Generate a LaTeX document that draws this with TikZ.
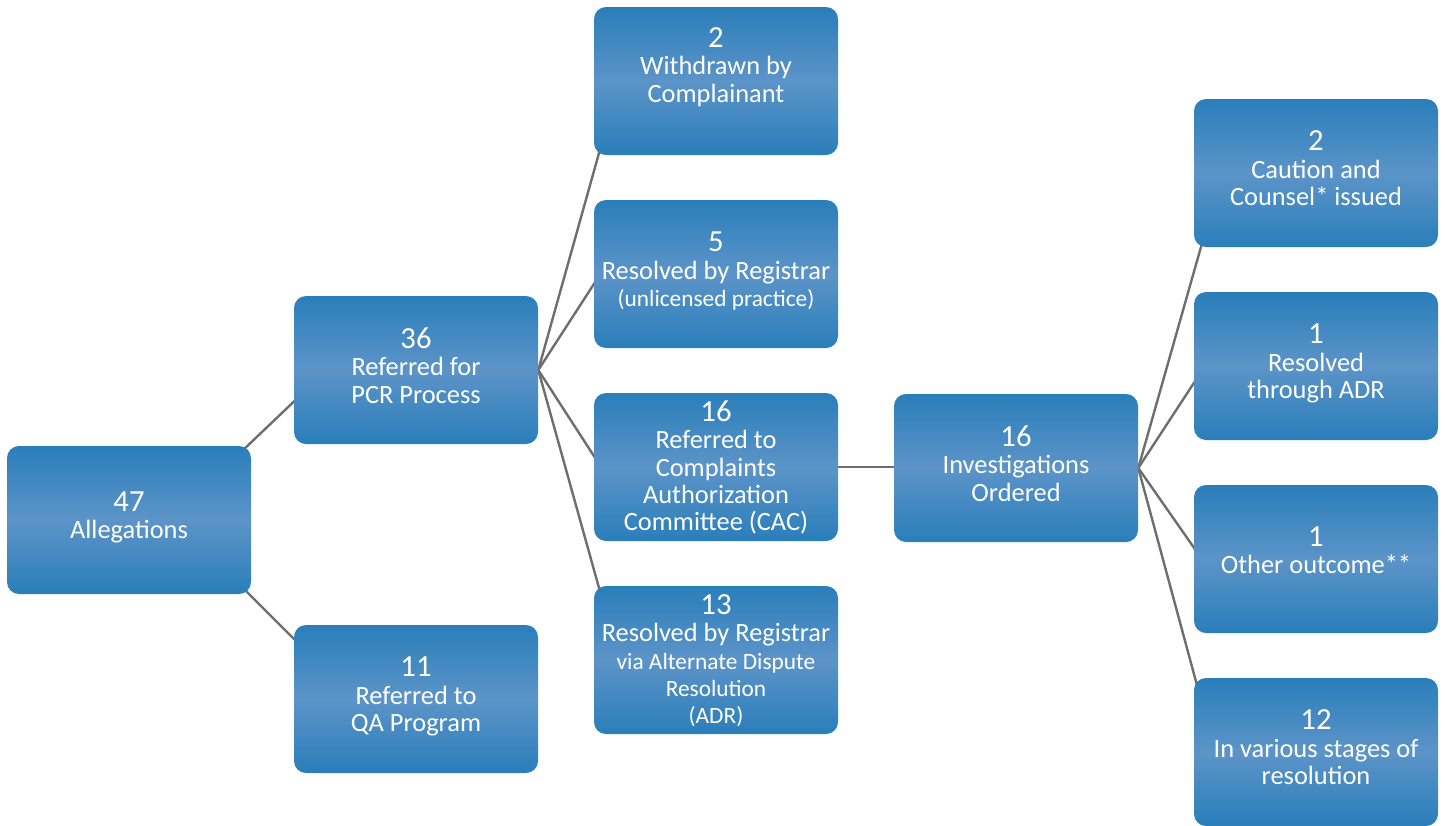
\documentclass[tikz,border=0pt]{standalone}
\usepackage{fontspec}
\setmainfont{Carlito}
\usetikzlibrary{positioning,calc,backgrounds}
\definecolor{boxdark}{RGB}{42,126,186}
\definecolor{boxlight}{RGB}{92,148,200}
\definecolor{linkgray}{RGB}{110,110,110}
\newcommand{\boxnum}[2][0pt]{{\rule{0pt}{#1}\fontsize{23}{24}\selectfont #2}}
\newcommand{\smallline}[1]{{\fontsize{17.5}{20}\selectfont #1}}

\begin{document}
\begin{tikzpicture}[x=0.75pt,y=0.75pt,yscale=-1,xscale=1,
  lift/.style={execute at end node={\rule[-#1]{0pt}{1pt}}}]
 \tikzstyle{box} = [rectangle, rounded corners=9pt, minimum width=183pt, minimum height=111pt, inner sep=0pt, top color=boxdark, bottom color=boxdark, middle color=boxlight, text=white, align=center, font=\fontsize{19.8}{20.6}\selectfont, lift=7pt]
 \tikzstyle{link} = [draw=linkgray, line width=1.8pt]
 \useasboundingbox (0,0) rectangle (1445,825);

 %First column
 \node[box] (alleg) at (129,520) {\boxnum{47}\\Allegations};
 %Second column
 \node[box] (pcr) at (416,370) {\boxnum{36}\\Referred for\\PCR Process};
 \node[box] (qa) at (416,699) {\boxnum{11}\\Referred to\\QA Program};
 %Third column
 \node[box, lift=24pt] (wd) at (716,81) {\boxnum{2}\\Withdrawn by\\Complainant};
 \node[box] (reg) at (716,274) {\boxnum{5}\\Resolved by Registrar\\\smallline{(unlicensed practice)}};
 \node[box] (cac) at (716,467) {\boxnum[20.5pt]{16}\\Referred to\\Complaints\\Authorization\\Committee (CAC)};
 \node[box] (adrreg) at (716,660) {\boxnum[20.5pt]{13}\\Resolved by Registrar\\\smallline{via Alternate Dispute}\\\smallline{Resolution}\\\smallline{(ADR)}};
 %Fourth column
 \node[box] (inv) at (1016,468) {\boxnum{16}\\Investigations\\Ordered};
 %Last column
 \node[box] (caution) at (1316,173) {\boxnum{2}\\Caution and\\Counsel* issued};
 \node[box] (adr) at (1316,366) {\boxnum{1}\\Resolved\\through ADR};
 \node[box, lift=13pt] (other) at (1316,559) {\boxnum{1}\\Other outcome**};
 \node[box] (stages) at (1316,752) {\boxnum{12}\\In various stages of\\resolution};

 %Draw the connectors behind the boxes
 \begin{scope}[on background layer]
  \draw[link] ($(alleg.north east)+(-10,6)$) -- ($(pcr.west)+(6,26)$);
  \draw[link] ($(alleg.south east)+(-10,-8)$) -- ($(qa.north west)+(7,21)$);
  \draw[link] (pcr.east) -- ($(wd.south west)+(8,-12)$);
  \draw[link] (pcr.east) -- ($(reg.west)+(6,1)$);
  \draw[link] (pcr.east) -- ($(cac.west)+(6,-2)$);
  \draw[link] (pcr.east) -- ($(adrreg.north west)+(8,12)$);
  \draw[link] (cac.east) -- (cac.east -| inv.west);
  \draw[link] (inv.east) -- ($(caution.south west)+(10,-10)$);
  \draw[link] (inv.east) -- ($(adr.west)+(6,8)$);
  \draw[link] (inv.east) -- ($(other.west)+(6,-3)$);
  \draw[link] (inv.east) -- ($(stages.north west)+(5,14)$);
 \end{scope}
\end{tikzpicture}
\end{document}
